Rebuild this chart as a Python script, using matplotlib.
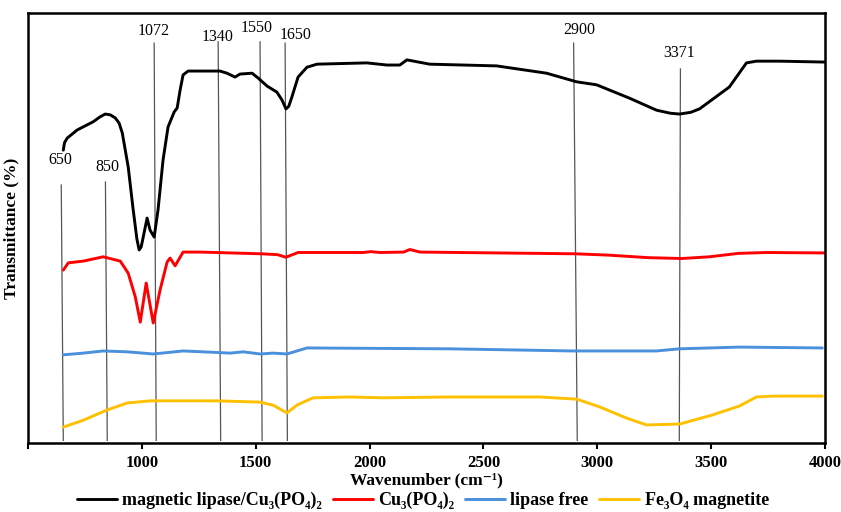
import matplotlib
matplotlib.use("Agg")
import matplotlib.pyplot as plt

plt.rcParams["font.family"] = ["Liberation Serif", "DejaVu Serif"]

# wavenumber (cm-1) and transmittance (arbitrary %, offset spectra)
black_w = [655, 660, 672, 716, 786, 815, 839, 862, 883, 900, 914, 940, 962, 978, 988,
           997, 1006, 1023, 1036, 1054, 1071, 1093, 1115, 1142, 1155, 1168, 1181,
           1203, 1256, 1343, 1374, 1409, 1431, 1484, 1510, 1550, 1593, 1615, 1633,
           1645, 1659, 1686, 1725, 1769, 1988, 2076, 2133, 2164, 2264, 2558, 2777,
           2909, 2997, 3141, 3260, 3320, 3361, 3410, 3449, 3580, 3655, 3699, 3800,
           3989, 4000]
black_t = [68.1, 69.8, 70.9, 72.8, 74.7, 75.8, 76.5, 76.3, 75.6, 74.4, 72.1, 64.2, 54.2,
           47.5, 44.9, 45.6, 47.9, 52.3, 49.5, 47.9, 54.2, 65.8, 73.5, 77.0, 77.9, 82.1,
           85.6, 86.5, 86.5, 86.5, 86.0, 85.1, 85.8, 86.0, 84.9, 83.0, 81.6, 79.8, 77.7,
           78.3, 80.5, 85.1, 87.4, 88.1, 88.4, 87.9, 87.9, 89.1, 88.1, 87.7, 86.0,
           84.0, 83.3, 80.2, 77.4, 76.7, 76.5, 76.9, 77.7, 82.8, 88.4, 88.8, 88.8,
           88.6, 88.6]

red_w = [655, 677, 743, 830, 905, 940, 971, 993, 1019, 1050, 1080, 1111, 1124, 1146,
         1181, 1256, 1524, 1596, 1632, 1686, 1971, 2006, 2045, 2150, 2177, 2221,
         2901, 3045, 3225, 3370, 3492, 3620, 3743, 4000]
red_t = [40.2, 41.9, 42.3, 43.3, 42.3, 39.5, 34.0, 28.1, 37.2, 27.9, 35.6, 42.1, 43.0,
         41.2, 44.4, 44.4, 44.0, 43.8, 43.2, 44.3, 44.3, 44.5, 44.3, 44.4, 45.0, 44.4,
         44.0, 43.7, 43.1, 42.9, 43.3, 44.1, 44.3, 44.2]

blue_w = [655, 743, 830, 936, 1050, 1181, 1269, 1388, 1445, 1519, 1576, 1637, 1725,
          2352, 2892, 3260, 3361, 3624, 3988]
blue_t = [20.5, 20.9, 21.4, 21.2, 20.7, 21.4, 21.2, 20.9, 21.2, 20.7, 20.9, 20.7, 22.1,
          21.9, 21.4, 21.4, 21.9, 22.3, 22.1]

yellow_w = [655, 743, 848, 936, 1036, 1330, 1519, 1576, 1637, 1681, 1751, 1913, 2058,
            2352, 2527, 2747, 2909, 3010, 3128, 3216, 3361, 3505, 3624, 3699, 3769, 3988]
yellow_t = [3.7, 5.3, 7.7, 9.3, 9.8, 9.8, 9.5, 8.8, 7.0, 8.8, 10.5, 10.7, 10.5,
            10.7, 10.7, 10.7, 10.2, 8.4, 5.8, 4.2, 4.4, 6.5, 8.6, 10.7, 10.9, 10.9]

series_names = ["magnetic lipase/Cu₃(PO₄)₂", "Cu₃(PO₄)₂", "lipase free", "Fe₃O₄ magnetite"]
series_colors = ["black", "#ff0000", "#4a90dc", "#ffc000"]

# peak marker lines: label, x at top, x at bottom, top level, label position
peak_labels = ["650", "850", "1072", "1340", "1550", "1650", "2900", "3371"]
peak_x_top = [646, 840, 1054, 1335, 1519, 1629, 2896, 3365]
peak_x_bot = [655, 848, 1063, 1346, 1528, 1639, 2912, 3360]
peak_y_top = [60.0, 60.7, 93.0, 93.3, 93.3, 93.0, 93.0, 87.0]
label_x = [641, 848, 1051, 1331, 1505, 1677, 2919, 3358]
label_y = [65.8, 64.2, 95.8, 94.4, 96.5, 94.9, 96.0, 90.7]

fig = plt.figure(figsize=(8.41, 5.12), dpi=100)
ax = fig.add_axes([0.0333, 0.1348, 0.9477, 0.8398])

for xt, xb, yt in zip(peak_x_top, peak_x_bot, peak_y_top):
    ax.plot([xt, xb], [yt, 0.6], color="#555555", linewidth=0.9, zorder=1)
for lab, lx, ly in zip(peak_labels, label_x, label_y):
    ax.text(lx, ly, lab, ha="center", va="center", fontsize=11.5)

data = [(black_w, black_t), (red_w, red_t), (blue_w, blue_t), (yellow_w, yellow_t)]
for (w, t), name, col in zip(data, series_names, series_colors):
    ax.plot(w, t, color=col, linewidth=2.1, label=name, zorder=2,
            solid_joinstyle="round", solid_capstyle="round")

ax.set_xlim(500, 4000)
ax.set_ylim(0, 100)
ticks = list(range(500, 4001, 500))
ax.set_xticks(ticks)
ax.set_xticklabels(["" if t == 500 else str(t) for t in ticks],
                   fontsize=12, fontweight="bold")
ax.set_yticks([])
ax.tick_params(axis="x", direction="out", length=4, width=1.5, pad=5)
for s in ax.spines.values():
    s.set_linewidth(1.8)

ax.set_xlabel("Wavenumber (cm⁻¹)", fontsize=12.5, fontweight="bold", labelpad=1)
ax.set_ylabel("Transmittance (%)", fontsize=12.5, fontweight="bold", labelpad=6)

fig.legend(loc="center", bbox_to_anchor=(0.503, 0.022), ncol=4, frameon=False,
           prop={"weight": "bold", "size": 13}, handlelength=2.2,
           handletextpad=0.3, columnspacing=0.6, borderaxespad=0, borderpad=0.1)

fig.savefig("out.png", dpi=100)
